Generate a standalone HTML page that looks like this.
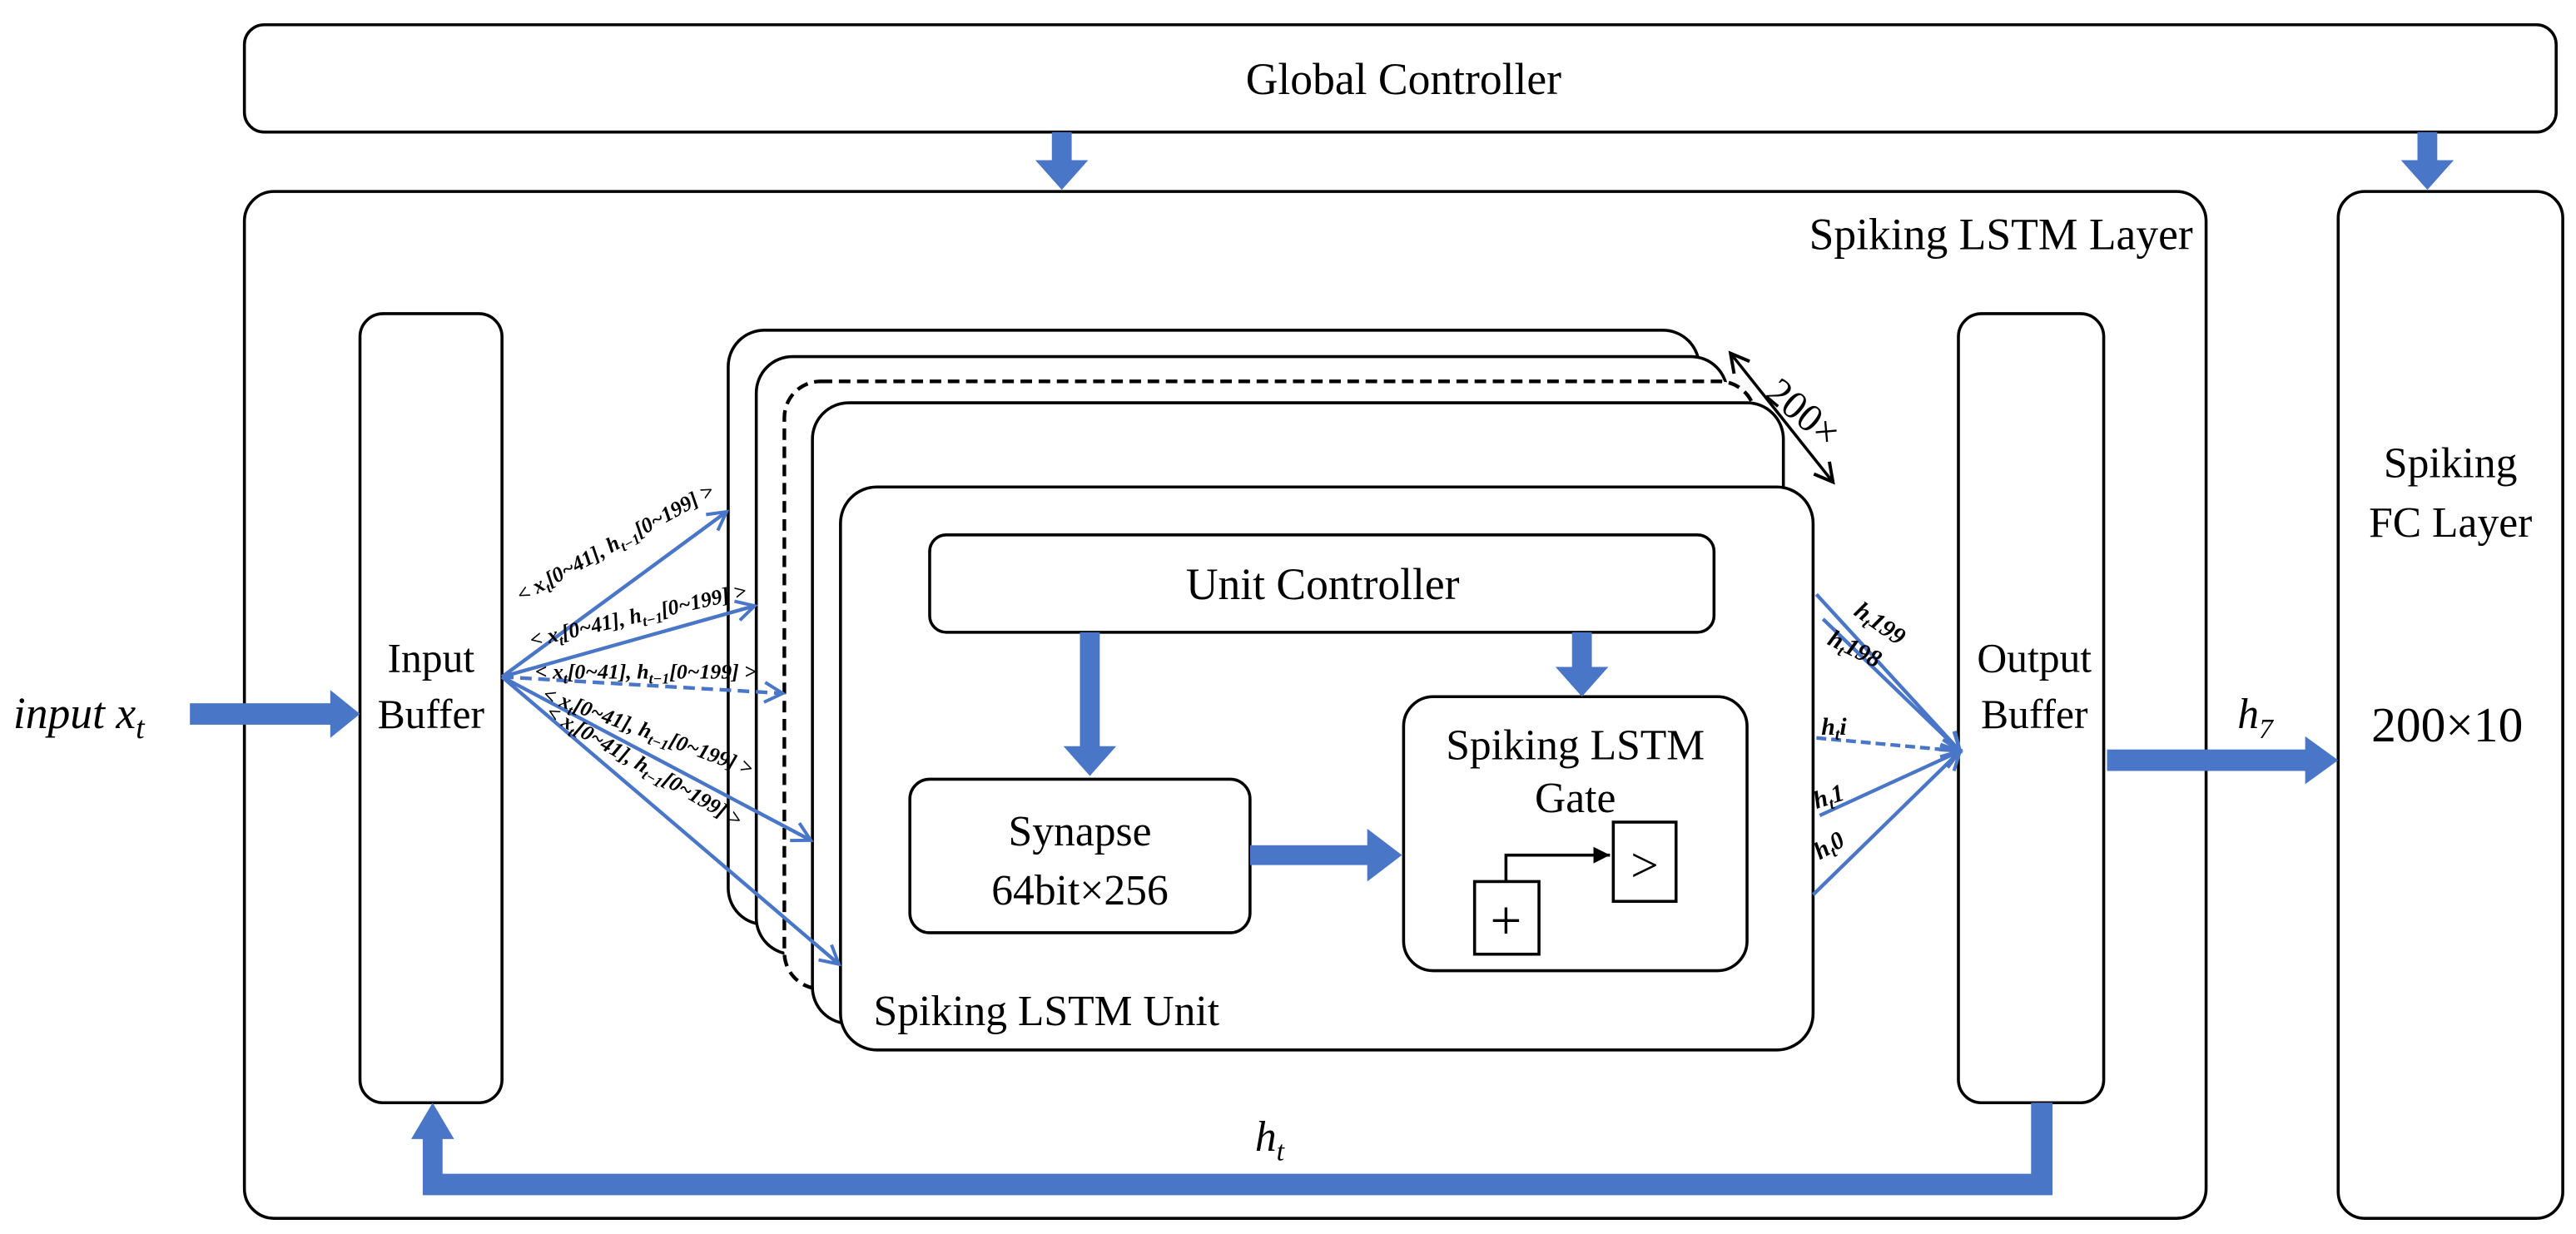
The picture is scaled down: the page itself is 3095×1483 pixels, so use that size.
<!DOCTYPE html>
<html><head><meta charset="utf-8"><style>
html,body{margin:0;padding:0;background:#fff;}
svg{display:block;}
text{font-family:"Liberation Serif",serif;fill:#000;}
</style></head><body>
<svg width="3095" height="1483" viewBox="0 0 1560 747.5" xmlns="http://www.w3.org/2000/svg">
<defs>
<marker id="oa" markerWidth="14" markerHeight="14" refX="12" refY="7" orient="auto" markerUnits="userSpaceOnUse"><path d="M1,1 L12,7 L1,13" fill="none" stroke="#4a76c8" stroke-width="2"/></marker>
<marker id="ba" markerWidth="12" markerHeight="12" refX="10" refY="6" orient="auto" markerUnits="userSpaceOnUse"><path d="M0,1 L10,6 L0,11 Z" fill="#000"/></marker>
<marker id="bo" markerWidth="14" markerHeight="14" refX="12" refY="7" orient="auto-start-reverse" markerUnits="userSpaceOnUse"><path d="M1,1 L12,7 L1,13" fill="none" stroke="#000" stroke-width="2"/></marker>
</defs>
<g fill="none" stroke="#000" stroke-width="1.8">
<rect x="148" y="15" width="1400" height="65" rx="12"/>
<rect x="148" y="116" width="1188" height="622" rx="18"/>
<rect x="1416" y="116" width="136" height="622" rx="16"/>
<rect x="218" y="190" width="86" height="478" rx="14"/>
<rect x="1186" y="190" width="88" height="478" rx="14"/>
<rect x="441" y="200" width="588" height="360" rx="22"/>
<rect x="458" y="216" width="588" height="362" rx="22" fill="#fff"/>
<rect x="475" y="231" width="588" height="368" rx="22" fill="#fff" stroke-dasharray="7,4" stroke-width="2.2"/>
<rect x="492" y="244" width="588" height="376" rx="22" fill="#fff"/>
<rect x="509" y="295" width="589" height="341" rx="22" fill="#fff"/>
<rect x="563" y="324" width="475" height="59" rx="10"/>
<rect x="551" y="472" width="206" height="93" rx="12"/>
<rect x="850" y="422" width="208" height="166" rx="18"/>
<rect x="893" y="534" width="39" height="44"/>
<rect x="977" y="498" width="38" height="48"/>
<path d="M912,534 V518 H975" marker-end="url(#ba)"/>
<path d="M1048,214 L1110,292" marker-start="url(#bo)" marker-end="url(#bo)"/>
</g>
<text x="850" y="57" font-size="27" text-anchor="middle">Global  Controller</text>
<text x="1328" y="151" font-size="27" text-anchor="end">Spiking LSTM Layer</text>
<text x="1484" y="289" font-size="26" text-anchor="middle">Spiking</text>
<text x="1484" y="325" font-size="26" text-anchor="middle">FC Layer</text>
<text x="1482" y="449" font-size="30" text-anchor="middle">200×10</text>
<text x="261" y="407" font-size="25" text-anchor="middle">Input</text>
<text x="261" y="441" font-size="25" text-anchor="middle">Buffer</text>
<text x="1232" y="407" font-size="25" text-anchor="middle">Output</text>
<text x="1232" y="441" font-size="25" text-anchor="middle">Buffer</text>
<text x="801" y="363" font-size="27" text-anchor="middle">Unit Controller</text>
<text x="654" y="512" font-size="26" text-anchor="middle">Synapse</text>
<text x="654" y="548" font-size="26" text-anchor="middle">64bit×256</text>
<text x="954" y="460" font-size="26" text-anchor="middle">Spiking LSTM</text>
<text x="954" y="492" font-size="26" text-anchor="middle">Gate</text>
<text x="912" y="569" font-size="34" text-anchor="middle">+</text>
<text x="996" y="534" font-size="30" text-anchor="middle">&gt;</text>
<text x="529" y="621" font-size="26">Spiking LSTM Unit</text>
<text x="1068" y="240" font-size="24" transform="rotate(40 1068 240)">200×</text>
<text x="8" y="441" font-size="27" font-style="italic">input x<tspan font-size="19" dy="6">t</tspan></text>
<text x="1355" y="441" font-size="26" font-style="italic">h<tspan font-size="17" dy="6">7</tspan></text>
<text x="760" y="697" font-size="26" font-style="italic">h<tspan font-size="17" dy="6">t</tspan></text>
<g fill="#4a76c8">
<rect x="637" y="80" width="12" height="18"/><path d="M627,97 H659 L643,115 Z"/>
<rect x="1464" y="80" width="12" height="18"/><path d="M1454,97 H1486 L1470,115 Z"/>
<rect x="115" y="426" width="87" height="13"/><path d="M200,418 V447 L218,432.5 Z"/>
<rect x="1276" y="454" width="122" height="13"/><path d="M1396,446 V475 L1416,460.5 Z"/>
<rect x="654" y="383" width="12" height="70"/><path d="M644,452 H676 L660,470 Z"/>
<rect x="952" y="383" width="12" height="22"/><path d="M942,404 H974 L958,422 Z"/>
<rect x="757" y="512" width="72" height="12"/><path d="M828,502 V534 L849,518 Z"/>
<path d="M1230,668 H1243 V724 H256 V688 H268 V711 H1230 Z"/>
<path d="M249,690 H275 L262,668 Z"/>
</g>
<g stroke="#4a76c8" stroke-width="2.2" fill="none">
<path d="M304,410 L440,310" marker-end="url(#oa)"/>
<path d="M304,410 L457,367" marker-end="url(#oa)"/>
<path d="M304,410 L474,420" marker-end="url(#oa)" stroke-dasharray="7,4"/>
<path d="M304,410 L491,509" marker-end="url(#oa)"/>
<path d="M304,410 L508,584" marker-end="url(#oa)"/>
<path d="M1100,360 L1187,455" marker-end="url(#oa)"/>
<path d="M1104,375 L1187,455" marker-end="url(#oa)"/>
<path d="M1100,447 L1187,455" marker-end="url(#oa)" stroke-dasharray="6,3"/>
<path d="M1102,494 L1187,455" marker-end="url(#oa)"/>
<path d="M1098,542 L1187,455" marker-end="url(#oa)"/>
</g>
<g font-size="13" font-weight="bold" font-style="italic">
<text x="316" y="365" transform="rotate(-29 316 365)">&lt; x<tspan font-size="9" dy="3">t</tspan><tspan dy="-3">[0~41], h</tspan><tspan font-size="9" dy="3">t−1</tspan><tspan dy="-3">[0~199] &gt;</tspan></text>
<text x="322" y="392" transform="rotate(-13 322 392)">&lt; x<tspan font-size="9" dy="3">t</tspan><tspan dy="-3">[0~41], h</tspan><tspan font-size="9" dy="3">t−1</tspan><tspan dy="-3">[0~199] &gt;</tspan></text>
<text x="324" y="411">&lt; x<tspan font-size="9" dy="3">t</tspan><tspan dy="-3">[0~41], h</tspan><tspan font-size="9" dy="3">t−1</tspan><tspan dy="-3">[0~199] &gt;</tspan></text>
<text x="328" y="424" transform="rotate(20 328 424)">&lt; x<tspan font-size="9" dy="3">t</tspan><tspan dy="-3">[0~41], h</tspan><tspan font-size="9" dy="3">t−1</tspan><tspan dy="-3">[0~199] &gt;</tspan></text>
<text x="330" y="434" transform="rotate(30 330 434)">&lt; x<tspan font-size="9" dy="3">t</tspan><tspan dy="-3">[0~41], h</tspan><tspan font-size="9" dy="3">t−1</tspan><tspan dy="-3">[0~199] &gt;</tspan></text>
<text x="1122" y="372" font-size="15" transform="rotate(35 1122 372)">h<tspan font-size="10" dy="3">t</tspan><tspan dy="-3">199</tspan></text>
<text x="1106" y="390" font-size="15" transform="rotate(26 1106 390)">h<tspan font-size="10" dy="3">t</tspan><tspan dy="-3">198</tspan></text>
<text x="1103" y="445" font-size="15">h<tspan font-size="10" dy="3">t</tspan><tspan dy="-3">i</tspan></text>
<text x="1100" y="490" font-size="15" transform="rotate(-18 1100 490)">h<tspan font-size="10" dy="3">t</tspan><tspan dy="-3">1</tspan></text>
<text x="1102" y="521" font-size="15" transform="rotate(-30 1102 521)">h<tspan font-size="10" dy="3">t</tspan><tspan dy="-3">0</tspan></text>
</g>
</svg>
</body></html>
